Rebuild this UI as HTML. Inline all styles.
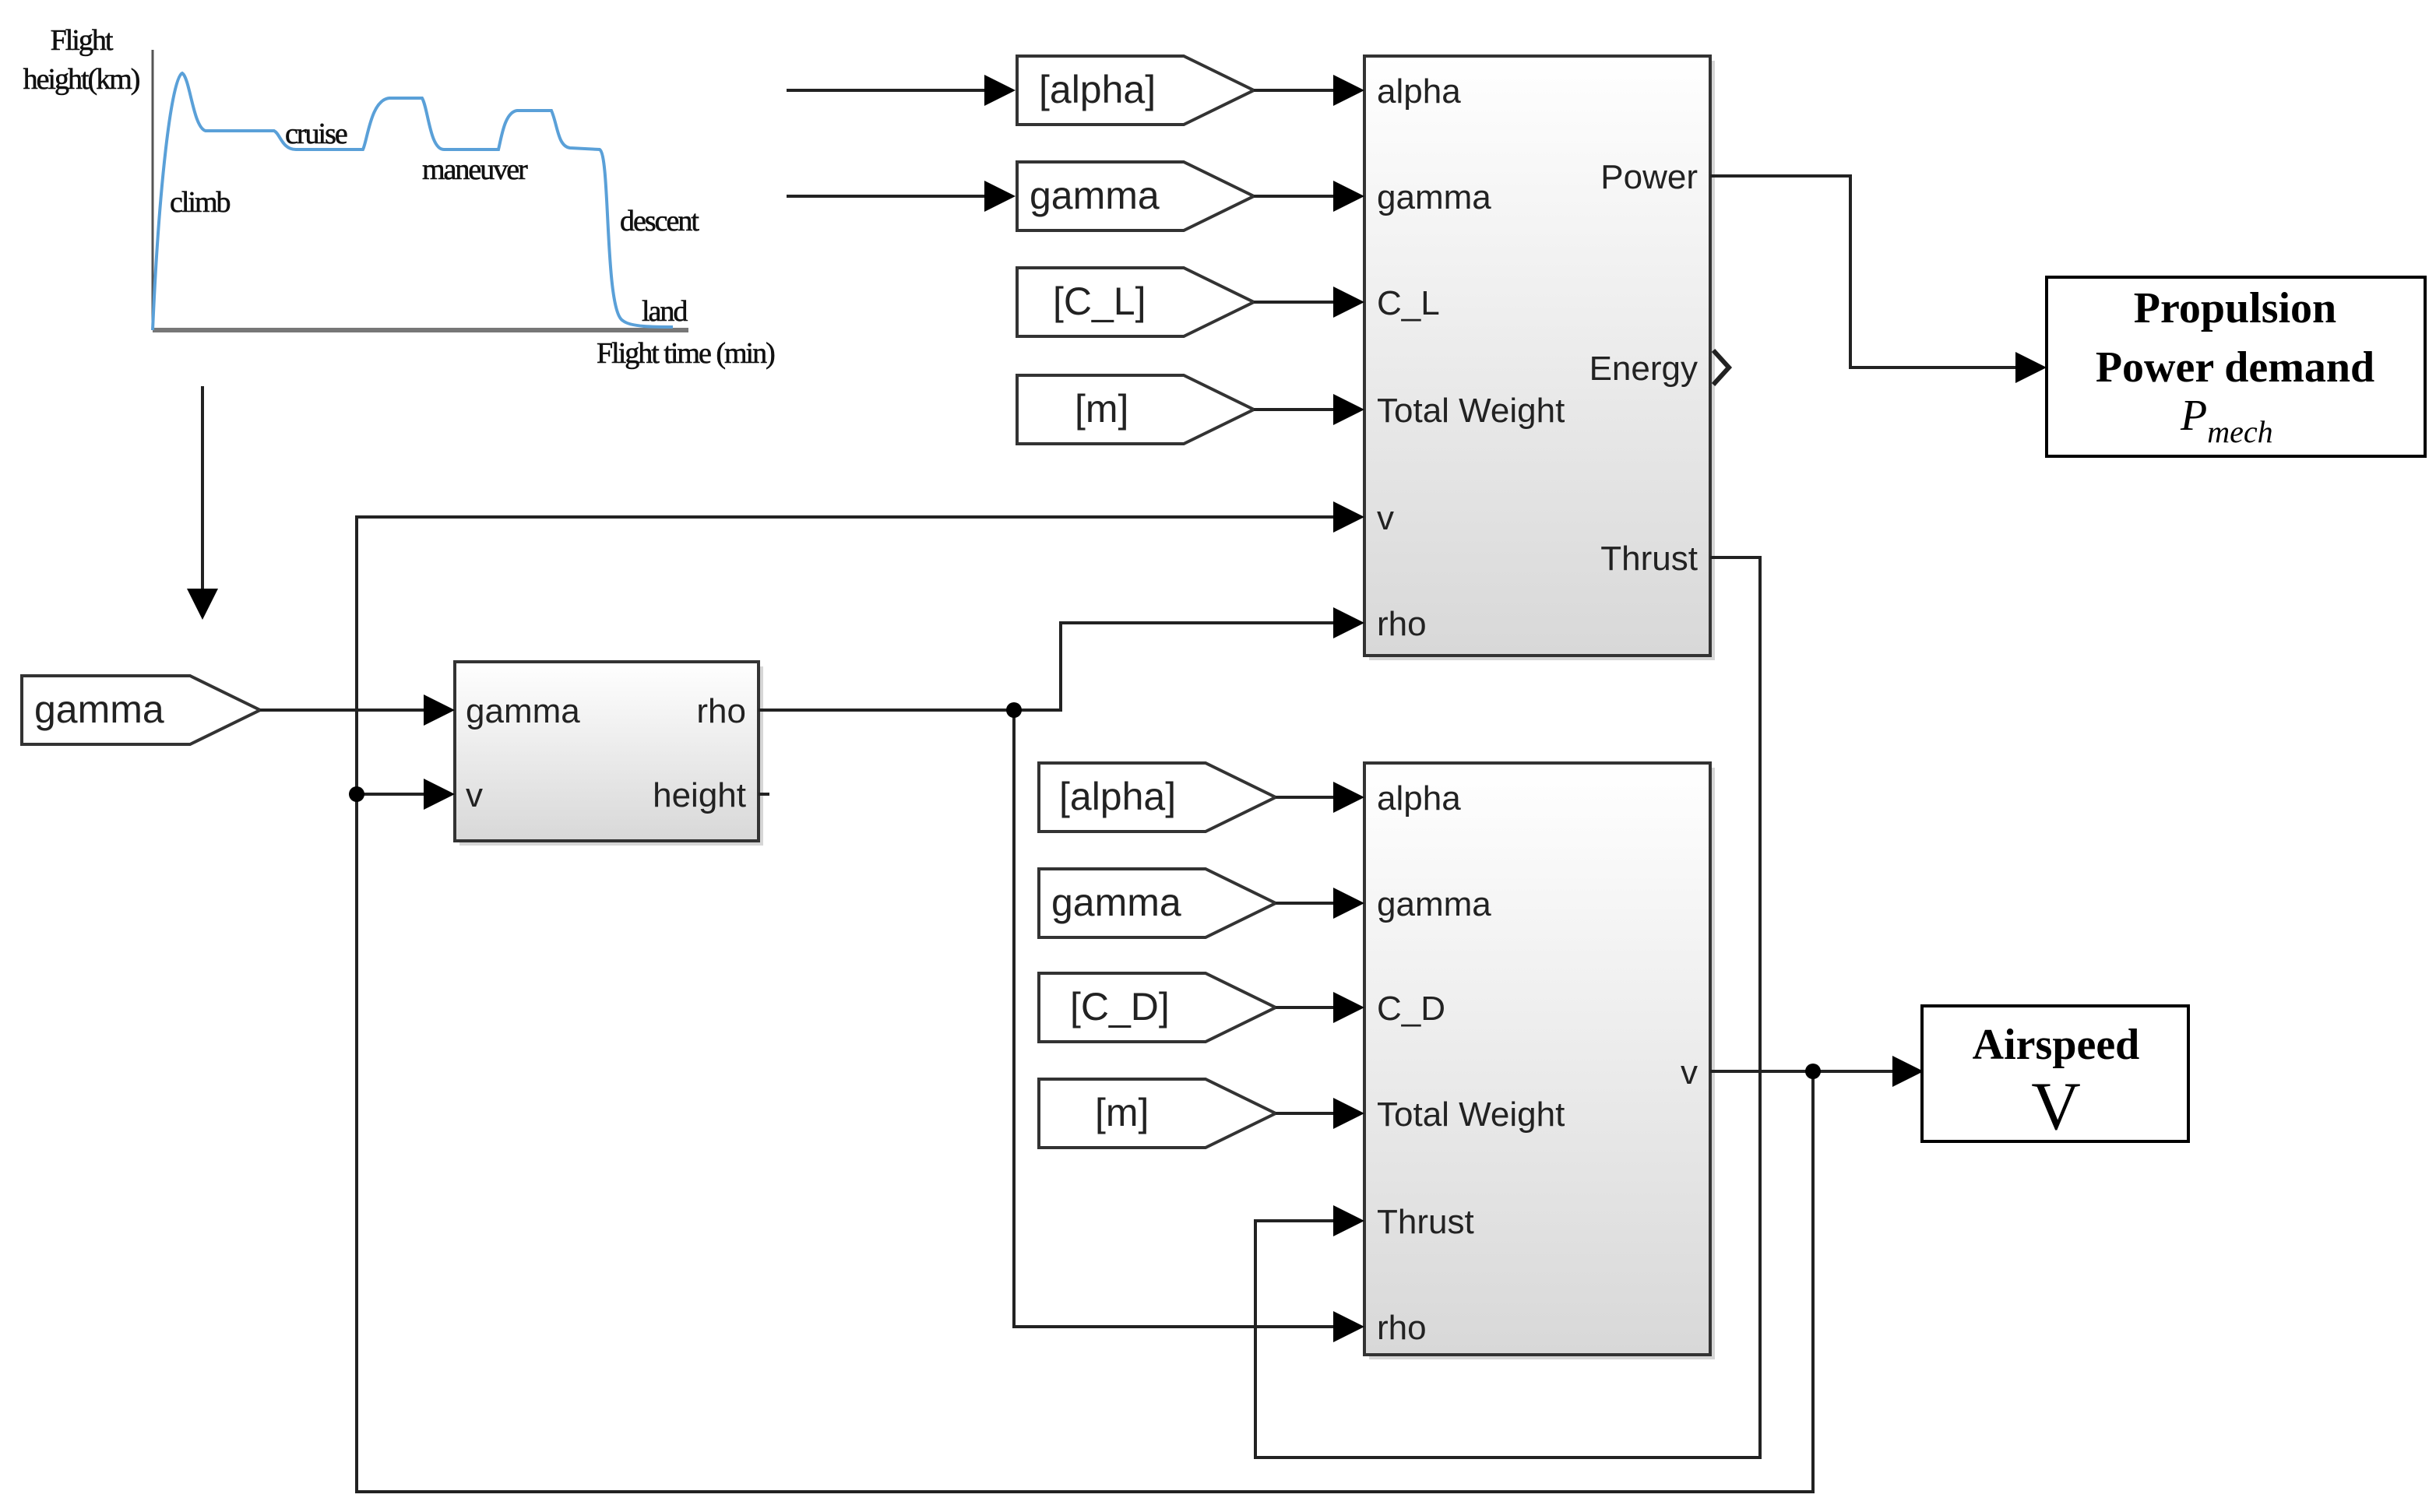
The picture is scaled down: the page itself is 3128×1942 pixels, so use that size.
<!DOCTYPE html>
<html><head><meta charset="utf-8"><style>html,body{margin:0;padding:0;background:#fff}svg{display:block}</style></head>
<body>
<svg width="3128" height="1942" viewBox="0 0 1564 971" xmlns="http://www.w3.org/2000/svg">
<defs>
<linearGradient id="g" x1="0" y1="0" x2="0" y2="1"><stop offset="0" stop-color="#fff"/><stop offset="1" stop-color="#d8d8d8"/></linearGradient>
<marker id="b" markerWidth="20" markerHeight="20" refX="18" refY="10" orient="auto" markerUnits="userSpaceOnUse"><path d="M0,0 L20,10 L0,20 z" fill="#000"/></marker>
</defs>
<style>
.l{fill:none;stroke:#222;stroke-width:2}
.s{font-family:"Liberation Sans",sans-serif;font-size:22px;fill:#222}
.t{font-family:"Liberation Sans",sans-serif;font-size:25px;fill:#222}
.c{font-family:"Liberation Serif",serif;font-size:19px;fill:#111;letter-spacing:-1px;stroke:#111;stroke-width:0.3}
.bx{font-family:"Liberation Serif",serif;font-size:28px;font-weight:bold;fill:#000}
</style>

<!-- chart -->
<line x1="98" y1="212" x2="98" y2="32" stroke="#555" stroke-width="1.5"/>
<line x1="98" y1="212" x2="442" y2="212" stroke="#777" stroke-width="3"/>
<path d="M98,212 C102,120 110,50 117,47 C122,50 124,82 132,84 L176,84 C180,86 181,96 190,96 L233,96 C236,90 238,64 250,63 L271,63 C275,70 276,96 285,96 L320,96 C322,88 324,72 332,71 L354,71 C358,80 358,94 366,95 L385,96 C392,100 388,200 400,206 C405,210 420,210 432,210" fill="none" stroke="#5aa0d8" stroke-width="2"/>
<text class="c" x="52" y="32" text-anchor="middle">Flight</text>
<text class="c" x="52" y="57" text-anchor="middle">height(km)</text>
<text class="c" x="109" y="136">climb</text>
<text class="c" x="183" y="92">cruise</text>
<text class="c" x="271" y="115">maneuver</text>
<text class="c" x="398" y="148">descent</text>
<text class="c" x="412" y="206">land</text>
<text class="c" x="383" y="233">Flight time (min)</text>

<!-- left arrows -->
<line class="l" x1="505" y1="58" x2="650" y2="58" marker-end="url(#b)"/>
<line class="l" x1="505" y1="126" x2="650" y2="126" marker-end="url(#b)"/>
<line class="l" x1="130" y1="248" x2="130" y2="396" marker-end="url(#b)"/>

<rect x="879" y="39" width="222" height="385" fill="#bbb" opacity="0.6"/>
<rect x="876" y="36" width="222" height="385" fill="url(#g)" stroke="#333" stroke-width="2"/>
<rect x="879" y="493" width="222" height="380" fill="#bbb" opacity="0.6"/>
<rect x="876" y="490" width="222" height="380" fill="url(#g)" stroke="#333" stroke-width="2"/>
<rect x="295" y="428" width="195" height="115" fill="#bbb" opacity="0.6"/>
<rect x="292" y="425" width="195" height="115" fill="url(#g)" stroke="#333" stroke-width="2"/>

<g fill="#fff" stroke="#333" stroke-width="2">
<path d="M653,36 H760 L805,58 L760,80 H653 Z"/>
<path d="M653,104 H760 L805,126 L760,148 H653 Z"/>
<path d="M653,172 H760 L805,194 L760,216 H653 Z"/>
<path d="M653,241 H760 L805,263 L760,285 H653 Z"/>
<path d="M667,490 H774 L819,512 L774,534 H667 Z"/>
<path d="M667,558 H774 L819,580 L774,602 H667 Z"/>
<path d="M667,625 H774 L819,647 L774,669 H667 Z"/>
<path d="M667,693 H774 L819,715 L774,737 H667 Z"/>
<path d="M14,434 H122 L167,456 L122,478 H14 Z"/>
</g>
<text class="t" x="667" y="66">[alpha]</text>
<text class="t" x="661" y="134">gamma</text>
<text class="t" x="676" y="202">[C_L]</text>
<text class="t" x="690" y="271">[m]</text>
<text class="t" x="680" y="520">[alpha]</text>
<text class="t" x="675" y="588">gamma</text>
<text class="t" x="687" y="655">[C_D]</text>
<text class="t" x="703" y="723">[m]</text>
<text class="t" x="22" y="464">gamma</text>

<g class="l">
<line x1="805" y1="58" x2="874" y2="58" marker-end="url(#b)"/>
<line x1="805" y1="126" x2="874" y2="126" marker-end="url(#b)"/>
<line x1="805" y1="194" x2="874" y2="194" marker-end="url(#b)"/>
<line x1="805" y1="263" x2="874" y2="263" marker-end="url(#b)"/>
<line x1="819" y1="512" x2="874" y2="512" marker-end="url(#b)"/>
<line x1="819" y1="580" x2="874" y2="580" marker-end="url(#b)"/>
<line x1="819" y1="647" x2="874" y2="647" marker-end="url(#b)"/>
<line x1="819" y1="715" x2="874" y2="715" marker-end="url(#b)"/>
<line x1="167" y1="456" x2="290" y2="456" marker-end="url(#b)"/>
<line x1="229" y1="510" x2="290" y2="510" marker-end="url(#b)"/>
<polyline points="487,456 681,456 681,400 874,400" marker-end="url(#b)"/>
<polyline points="651,456 651,852 874,852" marker-end="url(#b)"/>
<polyline points="1098,358 1130,358 1130,936 806,936 806,784 874,784" marker-end="url(#b)"/>
<polyline points="1098,688 1233,688" marker-end="url(#b)"/>
<polyline points="1164,688 1164,958 229,958 229,332 874,332" marker-end="url(#b)"/>
<polyline points="1098,113 1188,113 1188,236 1312,236" marker-end="url(#b)"/>
<line x1="487" y1="510" x2="494" y2="510"/>
</g>
<circle cx="651" cy="456" r="5"/>
<circle cx="229" cy="510" r="5"/>
<circle cx="1164" cy="688" r="5"/>
<path d="M1100,225 L1110,236 L1100,247" fill="none" stroke="#222" stroke-width="3"/>

<text class="s" x="884" y="66">alpha</text>
<text class="s" x="884" y="134">gamma</text>
<text class="s" x="884" y="202">C_L</text>
<text class="s" x="884" y="271">Total Weight</text>
<text class="s" x="884" y="340">v</text>
<text class="s" x="884" y="408">rho</text>
<text class="s" x="1090" y="121" text-anchor="end">Power</text>
<text class="s" x="1090" y="244" text-anchor="end">Energy</text>
<text class="s" x="1090" y="366" text-anchor="end">Thrust</text>

<text class="s" x="884" y="520">alpha</text>
<text class="s" x="884" y="588">gamma</text>
<text class="s" x="884" y="655">C_D</text>
<text class="s" x="884" y="723">Total Weight</text>
<text class="s" x="884" y="792">Thrust</text>
<text class="s" x="884" y="860">rho</text>
<text class="s" x="1090" y="696" text-anchor="end">v</text>

<text class="s" x="299" y="464">gamma</text>
<text class="s" x="299" y="518">v</text>
<text class="s" x="479" y="464" text-anchor="end">rho</text>
<text class="s" x="479" y="518" text-anchor="end">height</text>

<rect x="1314" y="178" width="243" height="115" fill="#fff" stroke="#000" stroke-width="2"/>
<text class="bx" x="1435" y="207" text-anchor="middle">Propulsion</text>
<text class="bx" x="1435" y="245" text-anchor="middle">Power demand</text>
<text x="1400" y="276" font-family="Liberation Serif,serif" font-style="italic" font-size="28" fill="#000">P<tspan font-size="20" dy="8">mech</tspan></text>
<rect x="1234" y="646" width="171" height="87" fill="#fff" stroke="#000" stroke-width="2"/>
<text class="bx" x="1320" y="680" text-anchor="middle">Airspeed</text>
<text x="1320" y="725" text-anchor="middle" font-family="Liberation Serif,serif" font-size="44" fill="#000">V</text>
</svg>
</body></html>
